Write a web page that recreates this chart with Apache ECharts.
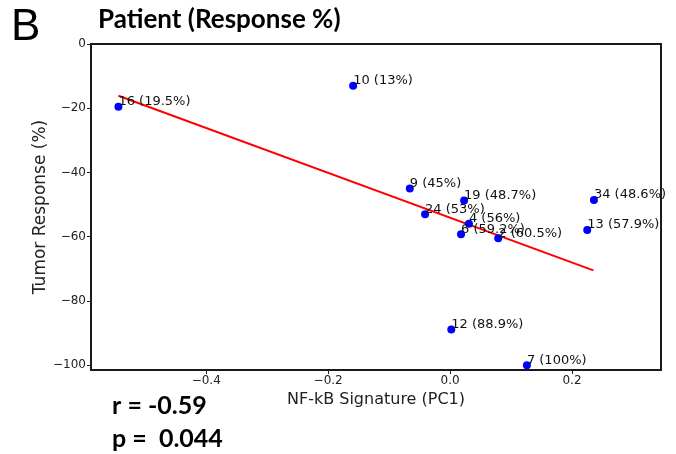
<!DOCTYPE html>
<html>
<head>
<meta charset="utf-8">
<script src="https://cdn.jsdelivr.net/npm/echarts@6/dist/echarts.min.js"></script>
<style>
  html, body { margin: 0; padding: 0; background: #fff; }
  #chart { width: 676px; height: 454px; }
</style>
</head>
<body>
<div id="chart"></div>
<script>
// 病人编号和应答率
const patients = ['16', '10', '9', '19', '24', '4', '6', '2', '34', '13', '12', '7']
const responses = ['19.5%', '13%', '45%', '48.7%', '53%', '56%', '59.2%', '60.5%', '48.6%', '57.9%', '88.9%', '100%']
// NF-kB 签名 (PC1)
const pc1 = [-0.544, -0.159, -0.066, 0.023, -0.041, 0.031, 0.018, 0.079, 0.236, 0.225, 0.002, 0.126]
// 肿瘤应答 (%)
const tumor = [-19.5, -13, -45, -48.7, -53, -56, -59.2, -60.5, -48.6, -57.9, -88.9, -100]
// 回归线两端
const lineX = [-0.544, 0.235]
const lineY = [-16.1, -70.5]
// 刻度
const xTicks = [-0.4, -0.2, 0, 0.2]
const yTicks = [0, -20, -40, -60, -80, -100]

const chart = echarts.init(document.getElementById('chart'))

const fmt = function (v, d) {
    const s = Math.abs(v).toFixed(d)
    return (v < -1e-9 ? '\u2212' : '') + s
}

const points = pc1.map(function (x, i) {
    return { value: [x, tumor[i]], name: patients[i] + ' (' + responses[i] + ')' }
})

const option = {
    animation: false,
    grid: {
        left: 91, right: 15, top: 44, bottom: 84,
        show: true, borderColor: '#1a1a1a', borderWidth: 2
    },
    graphic: [
        { type: 'text', left: 11, top: 6, style: { text: 'B', font: '44px "Liberation Sans"', fill: '#000' } },
        { type: 'text', left: 98, top: 7, style: { text: 'Patient (Response %)', font: 'bold 26px Lato', fill: '#000' } },
        { type: 'text', left: 112, top: 393, style: { text: 'r = -0.59', font: 'bold 25px Lato', fill: '#000' } },
        { type: 'text', left: 112, top: 426, style: { text: 'p =  0.044', font: 'bold 25px Lato', fill: '#000' } }
    ],
    xAxis: {
        type: 'value',
        min: -0.589, max: 0.346,
        name: 'NF-kB Signature (PC1)',
        nameLocation: 'middle', nameGap: 20,
        nameTextStyle: { fontFamily: 'DejaVu Sans', fontSize: 16, color: '#222' },
        splitLine: { show: false },
        axisLine: { show: false, onZero: false },
        axisTick: { show: true, length: 4, lineStyle: { color: '#222' }, customValues: xTicks },
        axisLabel: {
            customValues: xTicks, margin: 5,
            fontFamily: 'DejaVu Sans', fontSize: 12, color: '#222',
            formatter: function (v) { return fmt(v, 1) }
        }
    },
    yAxis: {
        type: 'value',
        min: -101.5, max: 0,
        name: 'Tumor Response (%)',
        nameLocation: 'middle', nameGap: 42, nameRotate: 90,
        nameMoveOverlap: false,
        nameTextStyle: { fontFamily: 'DejaVu Sans', fontSize: 17, color: '#222' },
        splitLine: { show: false },
        axisLine: { show: false, onZero: false },
        axisTick: { show: true, length: 4, lineStyle: { color: '#222' }, customValues: yTicks },
        axisLabel: {
            customValues: yTicks, margin: 5,
            fontFamily: 'DejaVu Sans', fontSize: 12, color: '#222',
            formatter: function (v) { return fmt(v, 0) }
        }
    },
    series: [
        {
            type: 'line',
            data: lineX.map(function (x, i) { return [x, lineY[i]] }),
            symbol: 'none',
            lineStyle: { color: '#ff0000', width: 2 },
            z: 2
        },
        {
            type: 'scatter',
            data: points,
            symbolSize: 8,
            itemStyle: { color: '#0000ff', opacity: 1 },
            label: {
                show: true, position: 'right', distance: 0, offset: [-4, -5],
                formatter: '{b}',
                fontFamily: 'DejaVu Sans', fontSize: 13, color: '#111'
            },
            z: 3
        }
    ]
}

chart.setOption(option)
</script>
</body>
</html>
